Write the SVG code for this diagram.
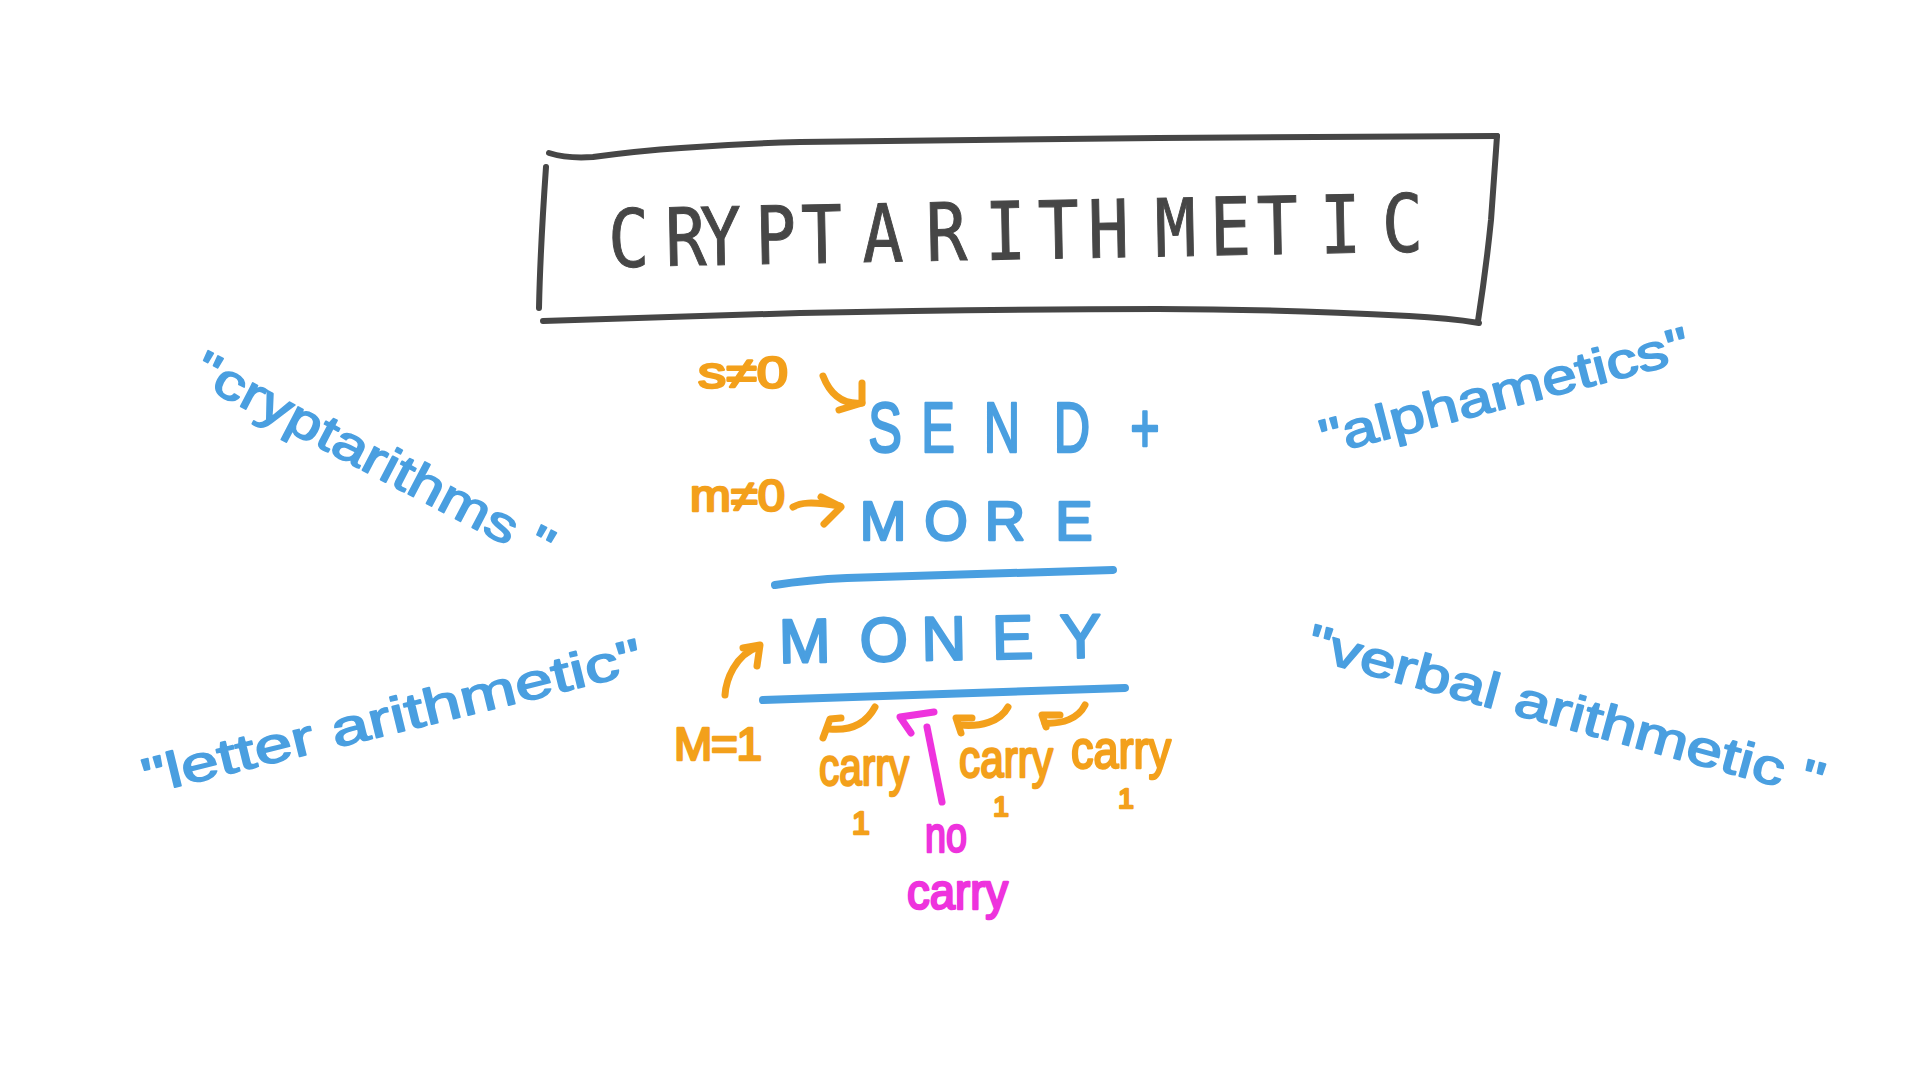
<svg xmlns="http://www.w3.org/2000/svg" width="1920" height="1080" viewBox="0 0 1920 1080">
<style>
  .title { font-family: "DejaVu Sans Mono", "Liberation Sans", monospace; font-size: 80px; fill: #464646; stroke: #464646; stroke-width: 1; text-anchor: middle; }
  .box { fill: none; stroke: #464646; stroke-width: 6; stroke-linecap: round; stroke-linejoin: round; }
  .blue { font-family: "Liberation Sans", Arial, sans-serif; fill: #4A9FE0; stroke: #4A9FE0; stroke-linejoin: round; }
  .eq { text-anchor: middle; stroke-width: 2.5; }
  .side { font-size: 50px; stroke-width: 1.6; }
  .or { font-family: "Liberation Sans", Arial, sans-serif; fill: #F3A01B; stroke: #F3A01B; stroke-width: 2.5; stroke-linejoin: round; }
  .mg { font-family: "Liberation Sans", Arial, sans-serif; fill: #EE33DD; stroke: #EE33DD; stroke-width: 2.5; stroke-linejoin: round; }
  .lineB { fill: none; stroke: #4A9FE0; stroke-width: 8; stroke-linecap: round; stroke-linejoin: round; }
  .arO { fill: none; stroke: #F3A01B; stroke-width: 7; stroke-linecap: round; stroke-linejoin: round; }
  .arM { fill: none; stroke: #EE33DD; stroke-width: 7; stroke-linecap: round; stroke-linejoin: round; }
</style>
<rect width="1920" height="1080" fill="#ffffff"/>

<g id="title">
  <path class="box" d="M549,153 C565,158 580,158 593,157 C630,152 650,150 681,148 C720,145 760,143 800,142 C930,140 1050,139 1158,138 C1300,137 1400,136 1497,136"/>
  <path class="box" d="M1497,136 C1495,165 1493,195 1491,220 C1487,260 1482,295 1478,321"/>
  <path class="box" d="M1479,323 C1455,319 1430,317 1409,316 C1330,312 1240,309 1158,309 C1030,309 900,311 800,313 C700,316 600,320 543,321"/>
  <path class="box" d="M546,167 C543,210 540,260 539,308"/>
  <text class="title" transform="rotate(-1.1 1020 254) translate(0,259) scale(0.85,1)" x="740 807.1 848.2 912.9 967.1 1038.8 1114.1 1183.5 1245.9 1304.7 1383.5 1448.2 1503.5 1577.6 1650.6" y="0">CRYPTARITHMETIC</text>
</g>

<g id="send">
  <text class="blue eq" font-size="70" transform="translate(0,452) scale(0.72,1)" x="1229.2 1302.8 1391.7 1488.9 1590.3" y="0" stroke-width="3.5">SEND+</text>
</g>
<g id="more">
  <text class="blue eq" font-size="56" x="883 946 1005 1074" y="540">MORE</text>
</g>
<g id="money">
  <text class="blue eq" font-size="62" transform="rotate(-1 940 657)" x="805 884 944 1013 1081" y="660">MONEY</text>
</g>

<g id="s-not-zero">
  <text class="or" font-size="44" x="698" y="388" textLength="90" lengthAdjust="spacingAndGlyphs">s≠0</text>
</g>
<g id="m-not-zero">
  <text class="or" font-size="44" x="690" y="511" textLength="95" lengthAdjust="spacingAndGlyphs">m≠0</text>
</g>
<g id="m-equals-1">
  <text class="or" font-size="46" x="674" y="760" textLength="88" lengthAdjust="spacing">M=1</text>
</g>

<g id="carry-1">
  <text class="or" font-size="54" x="819" y="785" textLength="90" lengthAdjust="spacingAndGlyphs">carry</text>
  <text class="or" font-size="32" x="861" y="834" text-anchor="middle">1</text>
</g>
<g id="carry-2">
  <text class="or" font-size="54" x="959" y="777" textLength="94" lengthAdjust="spacingAndGlyphs">carry</text>
  <text class="or" font-size="28" x="1001" y="816" text-anchor="middle">1</text>
</g>
<g id="carry-3">
  <text class="or" font-size="54" x="1071" y="768" textLength="100" lengthAdjust="spacingAndGlyphs">carry</text>
  <text class="or" font-size="28" x="1126" y="808" text-anchor="middle">1</text>
</g>
<g id="no-carry">
  <text class="mg" font-size="50" x="925" y="852" textLength="42" lengthAdjust="spacingAndGlyphs">no</text>
  <text class="mg" font-size="50" x="907" y="909" textLength="101" lengthAdjust="spacingAndGlyphs">carry</text>
</g>

<g id="cryptarithms">
  <text class="blue side" x="190" y="380" transform="rotate(27.6 190 380)" textLength="398" lengthAdjust="spacingAndGlyphs">"cryptarithms "</text>
</g>
<g id="letter-arithmetic">
  <text class="blue side" x="147" y="794" transform="rotate(-13.8 147 794)" textLength="513" lengthAdjust="spacingAndGlyphs">"letter arithmetic"</text>
</g>
<g id="alphametics">
  <text class="blue side" font-size="54" x="1325" y="455" transform="rotate(-14.5 1325 455)" textLength="380" lengthAdjust="spacingAndGlyphs">"alphametics"</text>
</g>
<g id="verbal-arithmetic">
  <text class="blue side" x="1304" y="657" transform="rotate(15.3 1304 657)" textLength="534" lengthAdjust="spacingAndGlyphs">"verbal arithmetic "</text>
</g>

<g id="connectors">
  <path class="lineB" d="M775,585 C800,581 825,579 847,578 C950,575 1040,572 1113,570"/>
  <path class="lineB" d="M763,700 C880,697 1000,693 1125,688"/>
  <path class="arO" d="M823,376 C830,394 842,405 862,403"/>
  <path class="arO" d="M862,383 L862,403 L839,410"/>
  <path class="arO" d="M793,507 C800,503 810,501 840,506"/>
  <path class="arO" d="M821,497 L841,507 L824,524"/>
  <path class="arO" d="M725,695 C726,680 735,655 758,647"/>
  <path class="arO" d="M743,648 L760,645 L757,666"/>
  <path class="arO" d="M875,707 C866,724 850,731 829,729"/>
  <path class="arO" d="M841,718 L830,719 L823,738"/>
  <path class="arM" d="M934,712 L900,717 L911,733"/>
  <path class="arM" d="M927,727 L942,802"/>
  <path class="arO" d="M1008,707 C1000,722 980,727 960,725"/>
  <path class="arO" d="M972,718 L956,718 L961,733"/>
  <path class="arO" d="M1085,705 C1078,719 1062,724 1045,723"/>
  <path class="arO" d="M1060,715 L1042,715 L1046,727"/>
</g>
</svg>
